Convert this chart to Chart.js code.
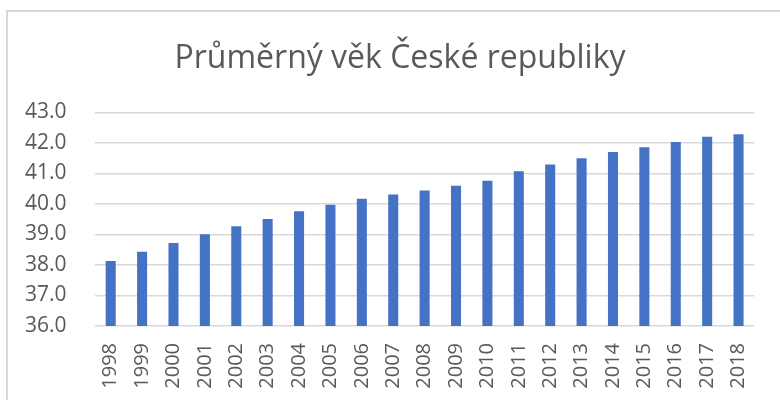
<!DOCTYPE html>
<html>
<head>
<meta charset="utf-8">
<script src="https://cdn.jsdelivr.net/npm/chart.js@4"></script>
<style>
    html, body { margin: 0; padding: 0; background: #fff; }
    #wrap { position: relative; width: 780px; height: 400px; overflow: hidden; }
    #frame {
        position: absolute; left: 6px; top: 10px; width: 800px; height: 420px;
        border: 2px solid #d9d9d9; box-sizing: border-box;
    }
    #chart { position: absolute; left: 0; top: 0; }
</style>
</head>
<body>
<div id="wrap">
    <div id="frame"></div>
    <canvas id="chart" width="780" height="400"></canvas>
</div>
<script>
const years = ["1998", "1999", "2000", "2001", "2002", "2003", "2004", "2005", "2006", "2007", "2008",
    "2009", "2010", "2011", "2012", "2013", "2014", "2015", "2016", "2017", "2018"];
const averageAge = [38.13, 38.43, 38.72, 39.01, 39.27, 39.51, 39.76, 39.97, 40.17, 40.31, 40.44,
    40.6, 40.76, 41.07, 41.29, 41.5, 41.7, 41.86, 42.03, 42.2, 42.28];
const yTicks = [36, 37, 38, 39, 40, 41, 42, 43];
const titleText = "Průměrný věk České republiky";

document.addEventListener("DOMContentLoaded", function () {
    const ctx = document.getElementById("chart").getContext("2d");

    new Chart(ctx, {
        type: "bar",
        data: {
            labels: years,
            datasets: [
                {
                    data: averageAge,
                    backgroundColor: "#4472c4",
                    borderWidth: 0,
                    categoryPercentage: 1,
                    barPercentage: 0.32,
                },
            ],
        },
        options: {
            responsive: false,
            animation: false,
            layout: { padding: { left: 39, right: 19, top: 40, bottom: 10 } },
            plugins: {
                legend: { display: false },
                tooltip: { enabled: false },
                title: {
                    display: true,
                    text: titleText,
                    color: "#595959",
                    font: { family: "'Open Sans', sans-serif", size: 32, weight: "normal" },
                    padding: { top: 0, bottom: 34 },
                },
            },
            scales: {
                y: {
                    min: yTicks[0],
                    max: yTicks[yTicks.length - 1],
                    afterBuildTicks: (axis) => {
                        axis.ticks = yTicks.map((v) => ({ value: v }));
                    },
                    afterFit: (axis) => {
                        axis.width = 56;
                    },
                    grid: { color: "#d9d9d9", lineWidth: 1.5, drawTicks: false },
                    border: { display: false },
                    ticks: {
                        color: "#595959",
                        font: { family: "'Open Sans', sans-serif", size: 21 },
                        // labels sit left of the grid, outside the narrow axis box
                        mirror: true,
                        padding: -70,
                        callback: (v) => Number(v).toFixed(1),
                    },
                },
                x: {
                    afterFit: (axis) => {
                        axis.height = 64;
                    },
                    grid: { display: false, drawTicks: false },
                    border: { display: false },
                    ticks: {
                        color: "#595959",
                        font: { family: "'Open Sans', sans-serif", size: 20 },
                        minRotation: 90,
                        maxRotation: 90,
                        autoSkip: false,
                        padding: 17,
                    },
                },
            },
        },
    });
});
</script>
</body>
</html>
